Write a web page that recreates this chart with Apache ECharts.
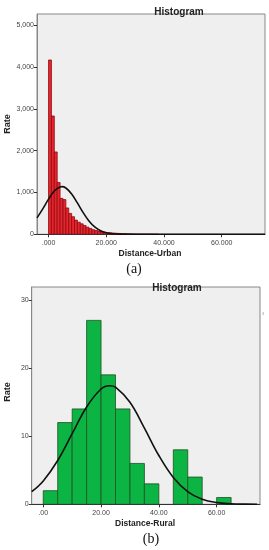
<!DOCTYPE html>
<html><head><meta charset="utf-8">
<script src="https://cdn.jsdelivr.net/npm/echarts@6/dist/echarts.min.js"></script>
<style>html,body{margin:0;padding:0;background:#fff}#c{width:269px;height:550px}</style>
</head><body><div id="c"></div>
<script>
// ---- Data: (a) Distance-Urban histogram, bins of width 1 starting at 0
const urbanBinStart = 0;
const urbanBinWidth = 1;
const urbanCounts = [4170, 2830, 1970, 1240, 860, 830, 630, 500, 420, 340, 290, 250, 210, 170, 140, 110, 90, 70, 60, 50, 40, 35, 30, 25, 20, 15, 12, 10, 8, 6, 5, 4, 3, 3, 2, 2, 1, 1];
// Normal curve (a)
const urbanCurveX = [-4, -2, 0, 2, 4, 4.6, 6, 8, 10, 12, 14, 16, 18, 20, 22, 25, 30, 40, 50, 60, 75];
const urbanCurveY = [394, 610, 841, 1035, 1134, 1140, 1108, 966, 750, 519, 320, 176, 86, 38, 15, 3, 0, 0, 0, 0, 0];
const urbanXTicks = [0, 20, 40, 60];
const urbanYTicks = [0, 1000, 2000, 3000, 4000, 5000];

// ---- Data: (b) Distance-Rural histogram, bins of width 5 starting at 0
const ruralBinStart = 0;
const ruralBinWidth = 5;
const ruralCounts = [2, 12, 14, 27, 19, 14, 6, 3, 0, 8, 4, 0, 1];
const ruralCurveX = [-4, 0, 5, 10, 15, 20, 23, 25, 30, 35, 40, 45, 50, 55, 60, 65, 70, 74];
const ruralCurveY = [1.85, 3.43, 6.43, 10.36, 14.29, 16.93, 17.4, 17.19, 14.97, 11.18, 7.16, 3.94, 1.85, 0.75, 0.26, 0.08, 0.02, 0.005];
const ruralXTicks = [0, 20, 40, 60];
const ruralYTicks = [0, 10, 20, 30];

const binData = (start, w, counts) => counts.map((c, i) => [start + i * w, start + (i + 1) * w, c]).filter(d => d[2] > 0);
const zip = (xs, ys) => xs.map((x, i) => [x, ys[i]]);

const labelFont = {fontFamily: 'Arial, "Liberation Sans", sans-serif', fontSize: 7, color: '#444'};
const boldFont = 'Arial, "Liberation Sans", sans-serif';

function histRender(fill, stroke) {
  return function (params, api) {
    const p0 = api.coord([api.value(0), api.value(2)]);
    const p1 = api.coord([api.value(1), 0]);
    return {
      type: 'rect',
      shape: {x: p0[0], y: p0[1], width: p1[0] - p0[0], height: p1[1] - p0[1]},
      style: {fill: fill, stroke: stroke, lineWidth: 0.8}
    };
  };
}

function xAxis(gridIndex, ticks, fmt) {
  return {
    type: 'value', gridIndex, min: -4, max: 75,
    splitLine: {show: false},
    axisLine: {show: true, onZero: false, lineStyle: {color: '#333', width: 1}},
    axisTick: {show: true, customValues: ticks, length: 3, lineStyle: {color: '#333'}},
    axisLabel: Object.assign({customValues: ticks, formatter: fmt, margin: 5}, labelFont)
  };
}
function yAxis(gridIndex, max, ticks) {
  return {
    type: 'value', gridIndex, min: 0, max: max,
    splitLine: {show: false},
    axisLine: {show: true, onZero: false, lineStyle: {color: '#888', width: 1}},
    axisTick: {show: true, customValues: ticks, length: 3, lineStyle: {color: '#333'}},
    axisLabel: Object.assign({customValues: ticks, formatter: v => v.toLocaleString('en-US'), margin: 3}, labelFont)
  };
}

const chart = echarts.init(document.getElementById('c'), null, {renderer: 'canvas'});
chart.setOption({
  animation: false,
  backgroundColor: '#fff',
  title: [
    {text: 'Histogram', left: 174, top: 2, textAlign: 'center', textStyle: {fontFamily: boldFont, fontSize: 10, fontWeight: 'bold', color: '#222'}},
    {text: 'Histogram', left: 172, top: 278, textAlign: 'center', textStyle: {fontFamily: boldFont, fontSize: 10, fontWeight: 'bold', color: '#222'}}
  ],
  grid: [
    {left: 37, right: 4, top: 14, height: 220.3, show: true, backgroundColor: '#efefef', borderColor: '#888', borderWidth: 1, containLabel: false},
    {left: 31.7, right: 9, top: 287, height: 217.3, show: true, backgroundColor: '#efefef', borderColor: '#888', borderWidth: 1, containLabel: false}
  ],
  xAxis: [
    xAxis(0, urbanXTicks, v => v === 0 ? '.000' : v.toFixed(3)),
    xAxis(1, ruralXTicks, v => v === 0 ? '.00' : v.toFixed(2))
  ],
  yAxis: [
    yAxis(0, 5270, urbanYTicks),
    yAxis(1, 31.9, ruralYTicks)
  ],
  series: [
    {type: 'custom', xAxisIndex: 0, yAxisIndex: 0, renderItem: histRender('#e8242c', '#8a0d12'), data: binData(urbanBinStart, urbanBinWidth, urbanCounts), encode: {x: [0, 1], y: 2}, clip: true},
    {type: 'line', xAxisIndex: 0, yAxisIndex: 0, data: zip(urbanCurveX, urbanCurveY), smooth: 0.4, showSymbol: false, lineStyle: {color: '#111', width: 1.6}},
    {type: 'custom', xAxisIndex: 1, yAxisIndex: 1, renderItem: histRender('#0cb443', '#1f4f22'), data: binData(ruralBinStart, ruralBinWidth, ruralCounts), encode: {x: [0, 1], y: 2}, clip: true},
    {type: 'line', xAxisIndex: 1, yAxisIndex: 1, data: zip(ruralCurveX, ruralCurveY), smooth: 0.4, showSymbol: false, lineStyle: {color: '#111', width: 1.6}}
  ],
  graphic: [
    {type: 'text', x: 8, y: 124, rotation: Math.PI / 2, style: {text: 'Rate', font: 'bold 9px ' + boldFont, fill: '#222', align: 'center', verticalAlign: 'middle'}},
    {type: 'text', x: 8, y: 392, rotation: Math.PI / 2, style: {text: 'Rate', font: 'bold 9px ' + boldFont, fill: '#222', align: 'center', verticalAlign: 'middle'}},
    {type: 'text', x: 150, y: 254, style: {text: 'Distance-Urban', font: 'bold 8.5px ' + boldFont, fill: '#222', align: 'center', verticalAlign: 'middle'}},
    {type: 'text', x: 145, y: 524, style: {text: 'Distance-Rural', font: 'bold 8.5px ' + boldFont, fill: '#222', align: 'center', verticalAlign: 'middle'}},
    {type: 'text', x: 134, y: 269, style: {text: '(a)', font: '14px "Liberation Serif", "DejaVu Serif", serif', fill: '#111', align: 'center', verticalAlign: 'middle'}},
    {type: 'text', x: 151, y: 539, style: {text: '(b)', font: '14px "Liberation Serif", "DejaVu Serif", serif', fill: '#111', align: 'center', verticalAlign: 'middle'}},
    {type: 'text', x: 263, y: 313, style: {text: 'ı', font: '6px ' + boldFont, fill: '#777', align: 'center', verticalAlign: 'middle'}}
  ]
});
</script>
</body></html>
